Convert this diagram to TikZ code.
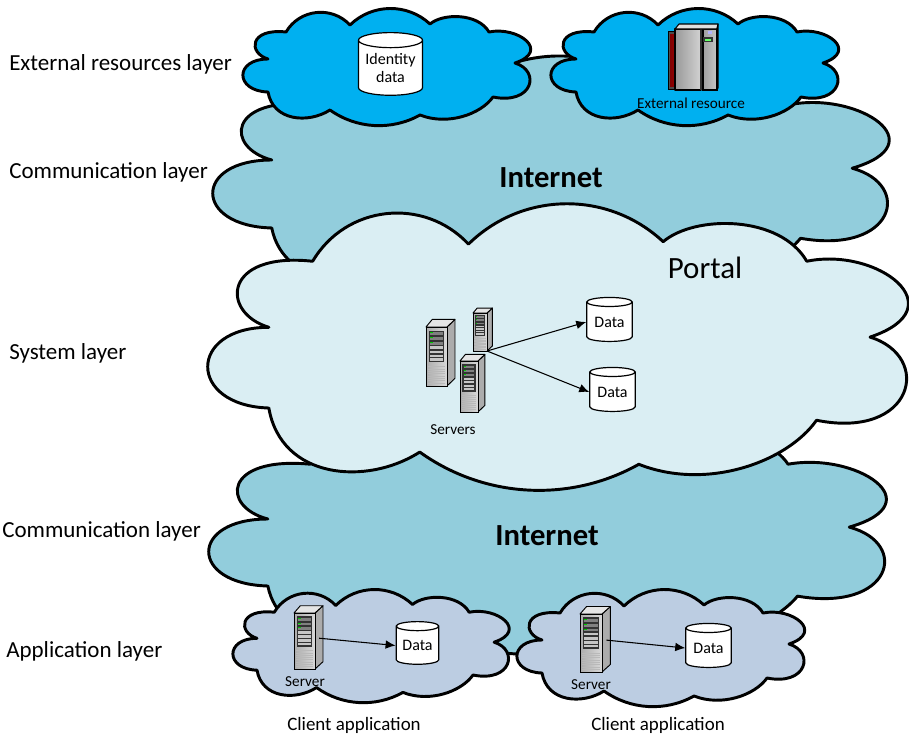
\documentclass[tikz,border=0pt]{standalone}
\usepackage{fontspec}
\setmainfont{Carlito}
\usetikzlibrary{shapes.geometric,arrows.meta}
\definecolor{resblue}{HTML}{00B0F0}
\definecolor{netblue}{HTML}{92CDDC}
\definecolor{portalblue}{HTML}{DAEEF3}
\definecolor{clientblue}{HTML}{BCCDE2}
\tikzset{
  lobe/.code={%
    \pgfmathsetmacro\lobeangle{2*atan(2*#1)}%
    \pgfmathsetmacro\lobeloose{#1/(.2936*sin(\lobeangle))}%
    \tikzset{bend left=\lobeangle,looseness=\lobeloose}},
  cloudline/.style={draw=black,line width=2.2pt,line join=round},
  datacyl/.style={shape=cylinder,shape border rotate=90,aspect=.3,draw=black,line width=.9pt,
    fill=white,inner sep=0pt,font=\fontsize{12pt}{13.5pt}\selectfont,align=center},
  layerlabel/.style={anchor=west,inner sep=0pt,font=\fontsize{17.25pt}{19pt}\selectfont},
  smalllabel/.style={inner sep=0pt,font=\fontsize{11.4pt}{13pt}\selectfont},
  bottomlabel/.style={inner sep=0pt,font=\fontsize{14.2pt}{16pt}\selectfont},
  netlabel/.style={inner sep=0pt,font=\fontsize{23pt}{25pt}\selectfont\bfseries},
  link/.style={-{Latex[length=7.5pt,width=6.5pt]},line width=.8pt},
}
% cloud outline, same ten lobes every time
\newcommand{\cloudshape}[5]{%
  \begin{scope}[shift={(#2,#3)},xscale=#4,yscale=#5]
    \draw[cloudline,fill=#1] (25,83) .. controls (-8.5,82) and (-8.5,50) .. (25,50)
      .. controls (5,44) and (6,19) .. (43,23)
      to[lobe=.25] (107,16) to[lobe=.2] (187,15)
      .. controls (200,4) and (235,4) .. (246,23)
      .. controls (275,17) and (308,42) .. (272,54)
      .. controls (298,62) and (290,96) .. (250,88)
      .. controls (238,105) and (205,117) .. (177,106)
      to[lobe=.145] (87,101)
      .. controls (65,115) and (30,112) .. (25,83) -- cycle;
  \end{scope}}
% server tower: name, left, top, width, height
\newcommand{\servericon}[5]{%
  \begin{scope}[shift={(#2,#3)},xscale=#4,yscale=#5]
    \draw[fill=gray!65,line width=.7pt,line join=round] (1,0) -- (1.38,-.13) -- (1.38,.87) -- (1,1) -- cycle;
    \draw[fill=gray!20,line width=.7pt,line join=round] (0,0) -- (.3,-.13) -- (1.38,-.13) -- (1,0) -- cycle;
    \draw[left color=gray!65,right color=gray!30,line width=.7pt] (0,0) rectangle (1,1);
    \fill[black!80] (.12,.06) rectangle (.88,.6);
    \foreach \rowy in {.09,.17,.25} {
      \fill[black!50] (.2,\rowy) rectangle (.8,\rowy+.05);
      \fill[green!80!black] (.2,\rowy) rectangle (.32,\rowy+.02);
    }
    \foreach \rowy in {.33,.4,.47,.53} {
      \fill[gray!45] (.2,\rowy) rectangle (.8,\rowy+.04);
    }
    \foreach \rowy in {.67,.71,...,.97} {
      \draw[gray!55,line width=.35pt] (.1,\rowy) -- (.9,\rowy);
    }
    \coordinate (#1) at (1.2,.45);
    \coordinate (#1-se) at (1,1);
  \end{scope}}
\begin{document}
\begin{tikzpicture}[x=.75pt,y=-.75pt]
  \useasboundingbox (0,0) rectangle (909,736);

  \cloudshape{netblue}{213}{57}{2.35}{2.06}
  \cloudshape{resblue}{243}{9}{1}{1}
  \cloudshape{resblue}{551}{9}{1}{1}
  \cloudshape{netblue}{209}{417.5}{2.354}{2.03}
  \cloudshape{portalblue}{208}{205}{2.434}{2.446}
  \cloudshape{clientblue}{233}{590}{.96}{.966}
  \cloudshape{clientblue}{517}{590}{1}{1}

  \node[layerlabel] (extlayer) at (9,64) {External resources layer};
  \node[layerlabel] (comlayera) at (9,172) {Communication layer};
  \node[layerlabel] (syslayer) at (9,353) {System layer};
  \node[layerlabel] (comlayerb) at (2,531) {Communication layer};
  \node[layerlabel] (applayer) at (6,651) {Application layer};

  \node[netlabel] (neta) at (551,178) {Internet};
  \node[netlabel] (netb) at (547,536) {Internet};
  \node[inner sep=0pt,font=\fontsize{23.2pt}{25pt}\selectfont] (portal) at (705,268) {Portal};

  % identity store and external machine
  \node[datacyl,minimum width=48pt,minimum height=47pt] (identity) at (390.5,68) {Identity\\data};
  \draw[fill=black!70,line width=.7pt] (668,31) rectangle (677,89);
  \fill[left color=red!50!black,middle color=red,right color=red!60!black] (670,34) rectangle (676,86);
  \draw[left color=gray!80,right color=gray!35,line width=.8pt,line join=round] (675,29) rectangle (701,90);
  \fill[black!80] (700,29) rectangle (703,90);
  \draw[left color=gray!75,right color=gray!45,line width=.8pt] (703,29) rectangle (717,90);
  \draw[fill=gray!25,line width=.8pt,line join=round] (675,29) -- (679,24) -- (718,24) -- (717,29) -- cycle;
  \draw[fill=gray!60,line width=.8pt,line join=round] (717,29) -- (718,24) -- (718,88) -- (717,90) -- cycle;
  \fill[black!80] (703,37) rectangle (713,42);
  \fill[green!60!white] (705,38.5) rectangle (711,40.5);
  \fill[blue!30] (708,31) rectangle (712,34);
  \node[smalllabel] (extres) at (691,103) {External resource};

  % portal servers and stores
  \servericon{srva}{426}{327}{21}{59}
  \servericon{srvb}{473}{313}{14}{38}
  \servericon{srvc}{460}{361}{18}{51}
  \node[smalllabel] (srvlabel) at (453,430) {Servers};
  \node[datacyl,minimum width=34pt,minimum height=33pt] (dataa) at (609.5,322) {Data};
  \node[datacyl,minimum width=34pt,minimum height=33pt] (datab) at (612.5,392) {Data};
  \draw[link] (srvb-se) -- (dataa.west);
  \draw[link] (srvb-se) -- (datab.west);

  % client applications
  \servericon{srvd}{294}{613}{21}{56}
  \node[smalllabel] (srvdlabel) at (305,682) {Server};
  \node[datacyl,minimum width=32pt,minimum height=32pt] (datac) at (417.5,645.5) {Data};
  \draw[link] (srvd) -- (datac.west);
  \servericon{srve}{580}{614}{22}{58}
  \node[smalllabel] (srvelabel) at (591,685) {Server};
  \node[datacyl,minimum width=34pt,minimum height=33pt] (datad) at (708.5,648) {Data};
  \draw[link] (srve) -- (datad.west);
  \node[bottomlabel] (clienta) at (354,725) {Client application};
  \node[bottomlabel] (clientb) at (658,725) {Client application};
\end{tikzpicture}
\end{document}
